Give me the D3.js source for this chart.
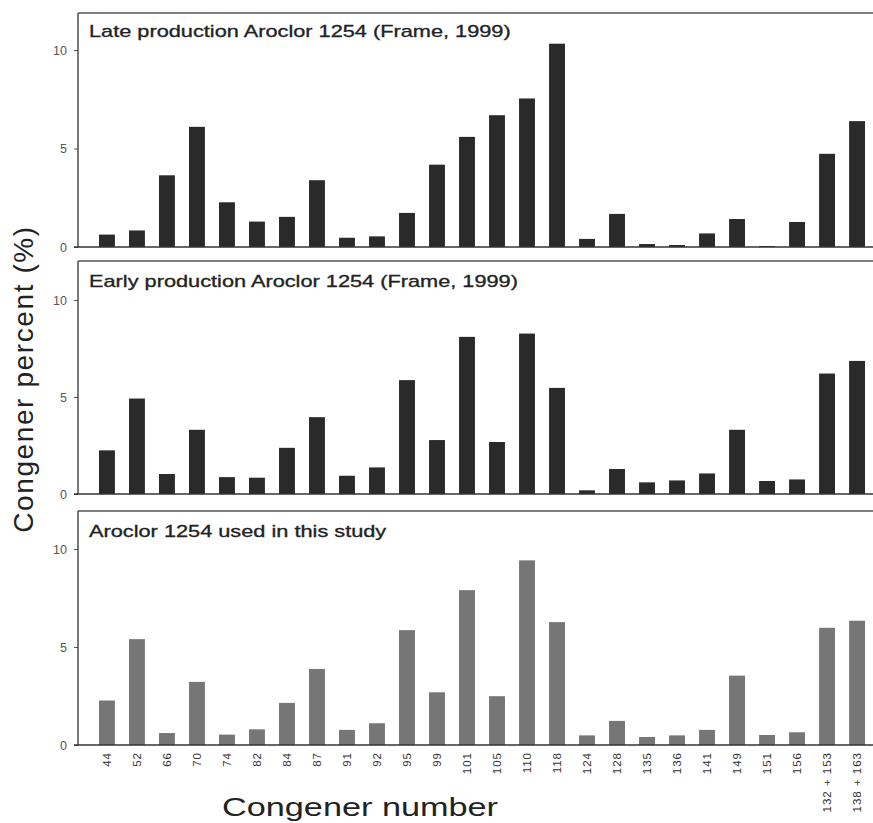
<!DOCTYPE html>
<html><head><meta charset="utf-8">
<script src="https://cdn.jsdelivr.net/npm/d3@7"></script>
<style>body{margin:0;background:#fff}svg{display:block}</style>
</head><body>
<svg id="c" width="873" height="823"></svg>
<script>
const congeners = ["44","52","66","70","74","82","84","87","91","92","95","99","101","105","110","118","124","128","135","136","141","149","151","156","132 + 153","138 + 163"];
const lateProduction = [0.63,0.84,3.64,6.1,2.27,1.29,1.53,3.39,0.47,0.54,1.73,4.18,5.59,6.69,7.54,10.32,0.41,1.68,0.15,0.1,0.69,1.42,0.05,1.27,4.73,6.39];
const earlyProduction = [2.25,4.92,1.03,3.31,0.87,0.84,2.38,3.96,0.94,1.37,5.87,2.78,8.1,2.68,8.27,5.47,0.19,1.29,0.6,0.7,1.06,3.31,0.67,0.75,6.21,6.86];
const thisStudy = [2.27,5.4,0.61,3.22,0.53,0.8,2.15,3.88,0.77,1.11,5.86,2.69,7.9,2.49,9.42,6.27,0.49,1.23,0.41,0.49,0.77,3.54,0.51,0.65,5.98,6.34];
const panelTitles = ["Late production Aroclor 1254 (Frame, 1999)","Early production Aroclor 1254 (Frame, 1999)","Aroclor 1254 used in this study"];
const yTicks = [0,5,10];

const svg = d3.select("#c");
const font = "'Liberation Sans', Arial, sans-serif";
const x = d3.scaleBand().domain(congeners).range([99, 865]).paddingInner(0.47).paddingOuter(0);

const panels = [
  {data: lateProduction, top: 13, y0: 247, y10: 50, fill: "#2a2a2a", ty: 37},
  {data: earlyProduction, top: 261, y0: 494, y10: 300, fill: "#2a2a2a", ty: 287},
  {data: thisStudy, top: 511, y0: 745, y10: 549, fill: "#767676", ty: 537}
];

panels.forEach((p, i) => {
  const y = d3.scaleLinear().domain([0, 10]).range([p.y0, p.y10]);
  const g = svg.append("g");
  g.append("line").attr("x1", 78).attr("x2", 873).attr("y1", p.top).attr("y2", p.top)
    .attr("stroke", "#555").attr("stroke-width", 1.3);
  g.selectAll("rect").data(p.data).join("rect")
    .attr("x", (d, j) => x(congeners[j]))
    .attr("width", x.bandwidth())
    .attr("y", d => y(d))
    .attr("height", d => y(0) - y(d))
    .attr("fill", p.fill);
  const ax = g.append("g").attr("transform", `translate(78,0)`)
    .call(d3.axisLeft(y).tickValues(yTicks).tickSize(4).tickPadding(7).tickFormat(d3.format("d")));
  ax.select(".domain").remove();
  ax.selectAll("line").attr("stroke", "#555");
  ax.selectAll("text").attr("font-family", font).attr("font-size", 12.5).attr("fill", "#555");
  g.append("line").attr("x1", 78).attr("x2", 78).attr("y1", p.top).attr("y2", p.y0)
    .attr("stroke", "#333").attr("stroke-width", 1.3);
  g.append("line").attr("x1", 74).attr("x2", 873).attr("y1", p.y0).attr("y2", p.y0)
    .attr("stroke", "#333").attr("stroke-width", 1.3);
  g.append("text").attr("transform", `translate(89,${p.ty}) scale(1.36,1)`).text(panelTitles[i])
    .attr("font-family", font).attr("font-size", 16).attr("fill", "#222")
    .attr("stroke", "#222").attr("stroke-width", 0.3);
});

const xg = svg.append("g").attr("transform", "translate(0,745)")
  .call(d3.axisBottom(x).tickSize(0).tickPadding(0));
xg.select(".domain").remove();
xg.selectAll("text")
  .attr("font-family", font).attr("font-size", 11.5).attr("fill", "#333")
  .attr("letter-spacing", 1)
  .attr("transform", "rotate(-90)")
  .attr("x", -7).attr("y", 0).attr("dy", "0.35em")
  .attr("text-anchor", "end");

svg.append("text").attr("transform", "translate(360,816) scale(1.37,1)").attr("text-anchor", "middle")
  .attr("font-family", font).attr("font-size", 25).attr("fill", "#222").text("Congener number");
svg.append("text").attr("transform", "translate(33,379) rotate(-90)").attr("text-anchor", "middle")
  .attr("font-family", font).attr("font-size", 28).attr("letter-spacing", 1.6).attr("fill", "#222").text("Congener percent (%)");
</script>
</body></html>
